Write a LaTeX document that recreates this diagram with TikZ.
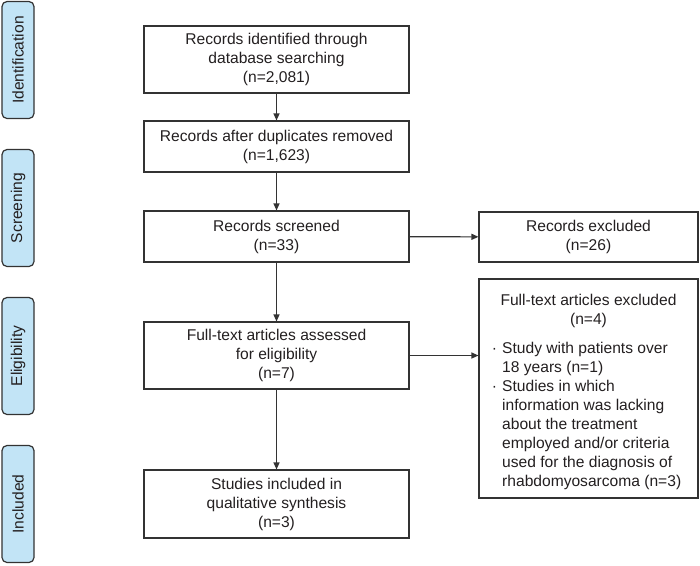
\documentclass[tikz,border=0pt]{standalone}
\usepackage{fontspec}
\setmainfont{Liberation Sans}
\usepackage{tikz}
\usetikzlibrary{arrows.meta,positioning}
\definecolor{phasefill}{HTML}{C2E4F6}
\definecolor{linegray}{HTML}{333333}
\definecolor{textgray}{HTML}{231F20}

\begin{document}
\begin{tikzpicture}[x=1pt,y=1pt,
    font=\fontsize{15.6}{19}\selectfont, text=textgray,
    phase/.style={draw=linegray, fill=phasefill, line width=1.2pt, rounded corners=5pt,
      rotate=90, minimum width=117pt, minimum height=32pt, inner sep=0pt},
    stagebox/.style={draw=linegray, line width=1.1pt, minimum width=265pt, align=center, inner sep=0pt},
    exclbox/.style={draw=linegray, line width=1.1pt, minimum width=219pt, align=center, inner sep=0pt},
    flow/.style={draw=linegray, line width=1.1pt, -{Triangle[length=7pt,width=6pt]}}]
  \useasboundingbox (0,0) rectangle (700,-565);

  % phases on the left
  \node[phase] (ident) at (18,-60) {Identification};
  \node[phase] (screen) at (18,-208) {Screening};
  \node[phase] (elig) at (18,-356) {Eligibility};
  \node[phase] (incl) at (18,-504) {Included};

  % main column
  \node[stagebox, minimum height=67pt] (found) at (276.5,-59.5)
    {Records identified through\\database searching\\(n=2,081)};
  \node[stagebox, minimum height=51pt] (dedup) at (276.5,-146.5)
    {Records after duplicates removed\\(n=1,623)};
  \node[stagebox, minimum height=51pt] (screened) at (276.5,-236.5)
    {Records screened\\(n=33)};
  \node[stagebox, minimum height=67pt] (fulltext) at (276.5,-355.5)
    {Full-text articles assessed\\for eligibility\\(n=7)};
  \node[stagebox, minimum height=68pt] (synth) at (276.5,-504)
    {Studies included in\\qualitative synthesis\\(n=3)};

  % exclusions
  \node[exclbox, minimum height=50pt] (recex) at (588.5,-237)
    {Records excluded\\(n=26)};
  \node[exclbox, minimum height=219pt] (ftex) at (588.5,-388.5) {};
  \node[align=center, anchor=north, inner sep=0pt] (ftexhead) at (588.5,-294)
    {Full-text articles excluded\\(n=4)};
  \node[align=left, anchor=north west, inner sep=0pt] (ftexlist) at (489,-342)
    {\makebox[13pt][l]{\,·}Study with patients over\\
     \hspace*{13pt}18 years (n=1)\\
     \makebox[13pt][l]{\,·}Studies in which\\
     \hspace*{13pt}information was lacking\\
     \hspace*{13pt}about the treatment\\
     \hspace*{13pt}employed and/or criteria\\
     \hspace*{13pt}used for the diagnosis of\\
     \hspace*{13pt}rhabdomyosarcoma (n=3)};

  % arrows
  \draw[flow] (found) -- (dedup);
  \draw[flow] (dedup) -- (screened);
  \draw[flow] (screened) -- (fulltext);
  \draw[flow] (fulltext) -- (synth);
  \draw[flow] (screened) -- (recex);
  \draw[flow] (fulltext.east) -- (fulltext.east -| ftex.west);
\end{tikzpicture}
\end{document}
